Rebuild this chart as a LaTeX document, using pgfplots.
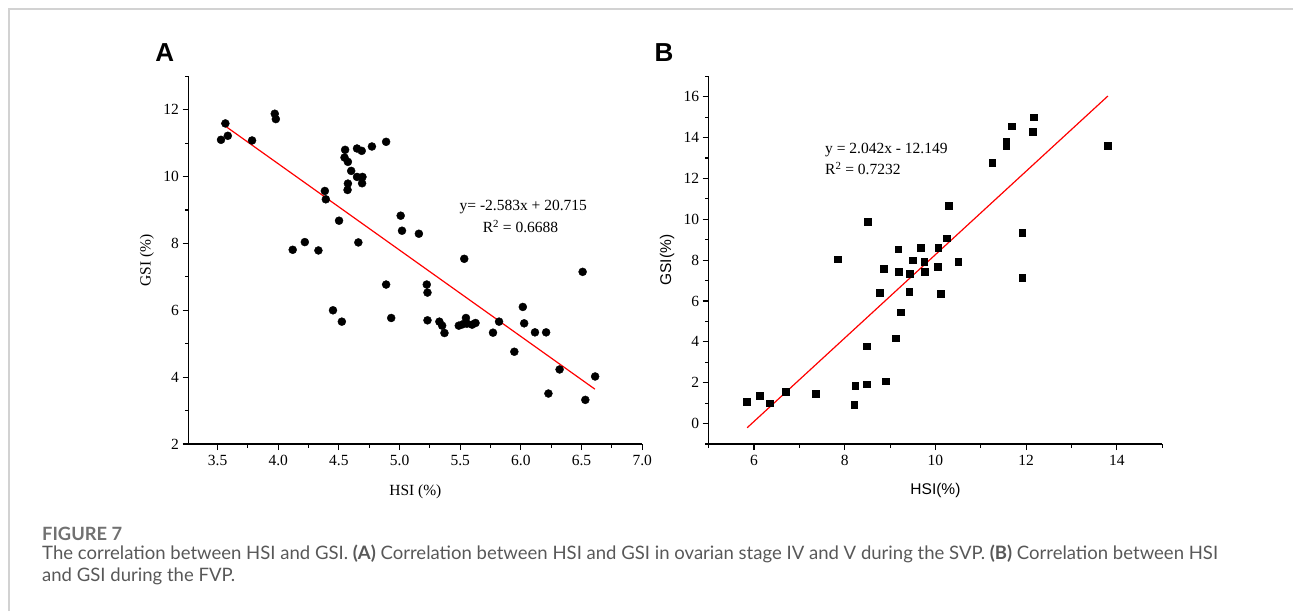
\documentclass[border=0pt]{standalone}
\usepackage{fontspec}
\setmainfont{Liberation Serif}
\newfontfamily\arial{Liberation Sans}
\newfontfamily\capfont{Lato}
\usepackage{pgfplots}
\pgfplotsset{compat=1.18}
\definecolor{capgray}{RGB}{88,88,88}
\definecolor{framegray}{RGB}{210,210,210}
\newlength\capw
\newlength\figw
\AtBeginDocument{%
  \settowidth\capw{\capfont\fontsize{16}{20}\selectfont The correlation between HSI and GSI. \textbf{(A)} Correlation between HSI and GSI in ovarian stage IV and V during the SVP. \textbf{(B)} Correlation between HSI}%
  \pgfmathsetmacro\capsize{16*(1176/\capw)}%
  \settowidth\figw{\capfont\bfseries\fontsize{16}{20}\selectfont FIGURE 7}%
  \pgfmathsetmacro\figsize{16*(80/\figw)}%
}
\pgfplotsset{
  myax/.style={
    scale only axis, width=453.7pt, height=367.7pt,
    anchor=south west,
    axis x line*=bottom, axis y line*=left,
    axis line style={-, line width=1.3pt, black},
    tick align=outside,
    major tick length=6pt, minor tick length=3.5pt,
    tick style={line width=1.1pt, black},
    tick label style={font=\fontsize{15.5}{18}\selectfont},
    /pgf/number format/assume math mode=true,
    clip=false,
  }
}
\begin{document}
\begin{tikzpicture}[x=1pt,y=1pt]
\path[use as bounding box] (0,0) rectangle (1293,611);
\draw[framegray, line width=1.5pt] (9,0) -- (9,602) -- (1293,602);

% ---------- Panel A ----------
\begin{axis}[myax, at={(188.5pt,167pt)},
  xmin=3.26, xmax=7.0, ymin=2, ymax=13,
  xtick={3.5,4,...,7}, minor xtick={3.75,4.25,...,6.75},
  ytick={2,4,...,12}, minor ytick={3,5,...,13},
  x tick label style={/pgf/number format/.cd, fixed, fixed zerofill, precision=1, /tikz/.cd, yshift=-1.5pt},
  xlabel={HSI (\%)}, ylabel={GSI (\%)},
  label style={font=\fontsize{15.5}{18}\selectfont},
  xlabel style={at={(axis description cs:0.5,-0.13)}, anchor=center},
  ylabel style={at={(axis description cs:-0.0917,0.5)}, anchor=center},
]
\addplot[only marks, mark=*, mark size=4pt, black] table {
x y
3.528 11.10
3.564 11.59
3.584 11.22
3.784 11.08
3.971 11.88
3.980 11.72
4.551 10.80
4.546 10.57
4.574 10.44
4.601 10.17
4.574 9.79
4.571 9.60
4.649 10.84
4.688 10.77
4.772 10.90
4.889 11.04
4.649 9.99
4.694 9.99
4.691 9.80
4.384 9.57
4.392 9.32
4.501 8.68
4.119 7.81
4.219 8.04
4.331 7.79
4.660 8.03
5.009 8.83
5.020 8.38
5.159 8.29
5.533 7.54
6.509 7.15
4.889 6.77
4.451 6.00
4.524 5.66
4.931 5.77
5.224 6.77
5.230 6.53
5.230 5.70
5.328 5.66
5.351 5.54
5.370 5.32
5.488 5.54
5.547 5.77
5.556 5.60
5.598 5.57
5.626 5.62
5.520 5.58
5.770 5.33
5.820 5.66
5.946 4.76
6.016 6.10
6.027 5.61
6.116 5.34
6.208 5.34
6.319 4.23
6.227 3.51
6.531 3.32
6.612 4.02
};
\addplot[red, line width=1.2pt] coordinates {(3.53,11.597) (6.61,3.641)};
\end{axis}
\node[anchor=base, inner sep=0, font=\fontsize{15.5}{18}\selectfont] at (523.3,400) {y= -2.583x + 20.715};
\node[anchor=base, inner sep=0, font=\fontsize{15.5}{18}\selectfont] at (520.5,378) {R\textsuperscript{2} = 0.6688};
\node[anchor=center, inner sep=0, font=\arial\bfseries\fontsize{26}{26}\selectfont] at (164.7,558.2) {A};

% ---------- Panel B ----------
\begin{axis}[myax, at={(708.6pt,167pt)},
  xmin=5, xmax=15, ymin=-1, ymax=17,
  xtick={6,8,...,14}, minor xtick={5,7,...,15},
  ytick={0,2,...,16}, minor ytick={-1,1,...,17},
  x tick label style={yshift=-1.5pt},
  xlabel={HSI(\%)}, ylabel={GSI(\%)},
  label style={font=\arial\fontsize{15.5}{18}\selectfont},
  xlabel style={at={(axis description cs:0.5,-0.126)}, anchor=center},
  ylabel style={at={(axis description cs:-0.0917,0.5)}, anchor=center},
]
\addplot[only marks, mark=square*, mark size=3.4pt, black] table {
x y
12.16 15.00
11.68 14.56
11.56 13.79
11.56 13.62
12.14 14.28
13.80 13.62
11.25 12.79
10.30 10.67
8.51 9.87
10.24 9.07
11.91 9.33
9.18 8.54
9.68 8.59
10.06 8.59
7.85 8.05
9.50 8.00
9.75 7.93
10.50 7.93
8.86 7.59
9.19 7.43
9.43 7.33
9.77 7.43
10.05 7.66
11.91 7.15
8.77 6.42
9.42 6.44
10.12 6.35
9.24 5.45
9.12 4.18
8.48 3.79
8.90 2.07
8.23 1.86
8.48 1.93
8.21 0.92
7.36 1.48
6.70 1.55
6.13 1.38
5.84 1.07
6.35 1.00
};
\addplot[red, line width=1.2pt] coordinates {(5.85,-0.204) (13.80,16.033)};
\end{axis}
\node[anchor=base west, inner sep=0, font=\fontsize{15.5}{18}\selectfont] at (825,457.5) {y = 2.042x - 12.149};
\node[anchor=base west, inner sep=0, font=\fontsize{15.5}{18}\selectfont] at (825,436) {R\textsuperscript{2} = 0.7232};
\node[anchor=center, inner sep=0, font=\arial\bfseries\fontsize{26}{26}\selectfont] at (664,558.2) {B};

% ---------- Caption ----------
\begin{scope}[every node/.style={anchor=base west, inner sep=0, text=capgray, font=\capfont\fontsize{\capsize}{\capsize}\selectfont}]
\node[font=\capfont\bfseries\fontsize{\figsize}{\figsize}\selectfont, text=capgray!85!white] at (42,71) {FIGURE 7};
\node at (42,51.7) {The correlation between HSI and GSI. \textbf{(A)} Correlation between HSI and GSI in ovarian stage IV and V during the SVP. \textbf{(B)} Correlation between HSI};
\node at (42,30) {and GSI during the FVP.};
\end{scope}
\end{tikzpicture}
\end{document}
